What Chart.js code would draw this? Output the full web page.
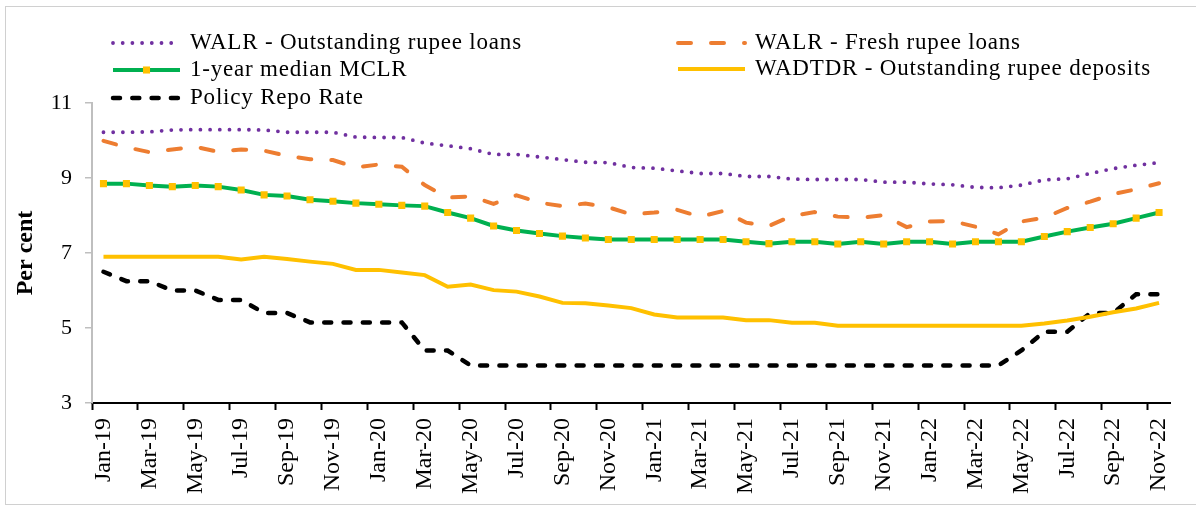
<!DOCTYPE html>
<html>
<head>
<meta charset="utf-8">
<title>WALR, MCLR, WADTDR and policy repo rate</title>
<script src="https://cdn.jsdelivr.net/npm/chart.js@4.4.1/dist/chart.umd.min.js"></script>
<style>
  html, body { margin: 0; padding: 0; background: #fff; }
  #wrap { position: relative; width: 1196px; height: 509px; overflow: hidden; }
  #frame { position: absolute; left: 5px; top: 6px; width: 1220px; height: 499px; border: 1px solid #d0d0d0; box-sizing: border-box; }
  #chart { position: absolute; left: 0; top: 0; }
</style>
</head>
<body>
<div id="wrap">
  <div id="frame"></div>
  <canvas id="chart" width="1196" height="509"></canvas>
</div>
<script>
// Months, Jan-19 .. Nov-22
const months = [
    'Jan-19', 'Feb-19', 'Mar-19', 'Apr-19', 'May-19', 'Jun-19', 'Jul-19', 'Aug-19', 'Sep-19', 'Oct-19', 'Nov-19', 'Dec-19',
    'Jan-20', 'Feb-20', 'Mar-20', 'Apr-20', 'May-20', 'Jun-20', 'Jul-20', 'Aug-20', 'Sep-20', 'Oct-20', 'Nov-20', 'Dec-20',
    'Jan-21', 'Feb-21', 'Mar-21', 'Apr-21', 'May-21', 'Jun-21', 'Jul-21', 'Aug-21', 'Sep-21', 'Oct-21', 'Nov-21', 'Dec-21',
    'Jan-22', 'Feb-22', 'Mar-22', 'Apr-22', 'May-22', 'Jun-22', 'Jul-22', 'Aug-22', 'Sep-22', 'Oct-22', 'Nov-22'
];

// Series (per cent)
const walrOutstanding = [
    10.22, 10.22, 10.23, 10.28, 10.29, 10.29, 10.29, 10.28, 10.22, 10.22, 10.22, 10.09,
    10.08, 10.08, 9.93, 9.86, 9.78, 9.63, 9.63, 9.56, 9.49, 9.42, 9.41, 9.28,
    9.26, 9.19, 9.12, 9.12, 9.04, 9.04, 8.97, 8.96, 8.96, 8.96, 8.89, 8.89,
    8.84, 8.82, 8.75, 8.74, 8.81, 8.95, 8.98, 9.12, 9.25, 9.34, 9.41
];
const walrFresh = [
    9.99, 9.82, 9.69, 9.76, 9.83, 9.70, 9.76, 9.73, 9.59, 9.50, 9.48, 9.28,
    9.36, 9.30, 8.81, 8.48, 8.51, 8.31, 8.54, 8.34, 8.25, 8.32, 8.22, 8.03,
    8.08, 8.15, 7.97, 8.12, 7.81, 7.72, 7.99, 8.09, 7.97, 7.94, 8.01, 7.69,
    7.84, 7.85, 7.70, 7.50, 7.84, 7.94, 8.20, 8.37, 8.57, 8.70, 8.86
];
const mclr = [
    8.85, 8.85, 8.80, 8.77, 8.80, 8.77, 8.68, 8.55, 8.52, 8.42, 8.38, 8.33,
    8.30, 8.27, 8.25, 8.08, 7.93, 7.72, 7.60, 7.52, 7.45, 7.40, 7.36, 7.36,
    7.36, 7.36, 7.36, 7.36, 7.30, 7.25, 7.30, 7.30, 7.24, 7.30, 7.24, 7.30,
    7.30, 7.24, 7.30, 7.30, 7.30, 7.44, 7.57, 7.68, 7.78, 7.93, 8.08
];
const wadtdr = [
    6.90, 6.90, 6.90, 6.90, 6.90, 6.90, 6.83, 6.90, 6.84, 6.77, 6.71, 6.55,
    6.55, 6.48, 6.41, 6.10, 6.16, 6.01, 5.97, 5.84, 5.67, 5.66, 5.60, 5.53,
    5.36, 5.28, 5.28, 5.28, 5.21, 5.21, 5.14, 5.14, 5.06, 5.06, 5.06, 5.06,
    5.06, 5.06, 5.06, 5.06, 5.06, 5.12, 5.20, 5.30, 5.42, 5.52, 5.67
];
const repoRate = [
    6.50, 6.25, 6.25, 6.00, 6.00, 5.75, 5.75, 5.40, 5.40, 5.15, 5.15, 5.15,
    5.15, 5.15, 4.40, 4.40, 4.00, 4.00, 4.00, 4.00, 4.00, 4.00, 4.00, 4.00,
    4.00, 4.00, 4.00, 4.00, 4.00, 4.00, 4.00, 4.00, 4.00, 4.00, 4.00, 4.00,
    4.00, 4.00, 4.00, 4.00, 4.40, 4.90, 4.90, 5.40, 5.40, 5.90, 5.90
];

const yTicks = [3, 5, 7, 9, 11];

const FONT = 'Liberation Serif';
Chart.defaults.font.family = FONT;
Chart.defaults.color = '#000';

// Legend in two columns, drawn on the canvas like the original
const columnLegend = {
    id: 'columnLegend',
    afterDraw(chart, args, opts) {
        const ctx = chart.ctx;
        ctx.save();
        opts.items.forEach(item => {
            const ds = chart.data.datasets[item.dataset];
            const x1 = item.x + opts.lineLength;
            ctx.save();
            ctx.strokeStyle = ds.borderColor;
            ctx.lineWidth = ds.borderWidth;
            ctx.lineCap = ds.borderCapStyle || 'butt';
            ctx.setLineDash(ds.borderDash || []);
            ctx.beginPath();
            ctx.moveTo(item.x, item.y);
            ctx.lineTo(x1, item.y);
            ctx.stroke();
            if (ds.pointRadius > 0) {
                const s = ds.pointRadius * Math.SQRT2;
                ctx.fillStyle = ds.pointBackgroundColor;
                ctx.fillRect((item.x + x1) / 2 - s / 2, item.y - s / 2, s, s);
            }
            ctx.restore();
            ctx.font = opts.font;
            ctx.letterSpacing = opts.letterSpacing;
            ctx.fillStyle = '#000';
            ctx.textBaseline = 'alphabetic';
            ctx.fillText(ds.label, x1 + opts.gap, item.y + 6);
        });
        ctx.restore();
    }
};

const chart = new Chart(document.getElementById('chart').getContext('2d'), {
    type: 'line',
    data: {
        labels: months,
        datasets: [
            {
                label: 'WALR - Outstanding rupee loans',
                data: walrOutstanding,
                borderColor: '#7030A0',
                borderWidth: 3.8,
                borderDash: [0, 9.7],
                borderCapStyle: 'round',
                pointRadius: 0
            },
            {
                label: 'WALR - Fresh rupee loans',
                data: walrFresh,
                borderColor: '#ED7D31',
                borderWidth: 4,
                borderDash: [13, 20],
                borderCapStyle: 'round',
                pointRadius: 0
            },
            {
                label: '1-year median MCLR',
                data: mclr,
                borderColor: '#00B050',
                borderWidth: 4,
                pointStyle: 'rect',
                pointRadius: 5,
                pointBackgroundColor: '#FFC000',
                pointBorderColor: '#FFC000',
                pointBorderWidth: 0
            },
            {
                label: 'WADTDR - Outstanding rupee deposits',
                data: wadtdr,
                borderColor: '#FFC000',
                borderWidth: 4,
                pointRadius: 0
            },
            {
                label: 'Policy Repo Rate',
                data: repoRate,
                borderColor: '#000000',
                borderWidth: 4.5,
                borderDash: [7, 12.3],
                borderCapStyle: 'round',
                pointRadius: 0
            }
        ]
    },
    options: {
        responsive: false,
        devicePixelRatio: 1,
        animation: false,
        layout: {
            padding: { top: 103, right: 13, bottom: 0, left: 0 }
        },
        elements: {
            line: { tension: 0, fill: false }
        },
        scales: {
            x: {
                type: 'category',
                offset: true,
                grid: {
                    offset: true,
                    drawOnChartArea: false,
                    tickLength: 7,
                    tickWidth: 2,
                    tickColor: ctx => ctx.index % 2 === 0 ? '#000' : 'rgba(0,0,0,0)'
                },
                border: { color: '#000', width: 2 },
                ticks: {
                    autoSkip: false,
                    minRotation: 90,
                    maxRotation: 90,
                    padding: 8,
                    font: { size: 24 },
                    color: '#000',
                    callback: function(value, index) {
                        return index % 2 === 0 ? this.getLabelForValue(value) : '';
                    }
                },
                afterFit: scale => { scale.height = 106; }
            },
            y: {
                min: 3,
                max: 11,
                afterBuildTicks: scale => { scale.ticks = yTicks.map(v => ({ value: v })); },
                grid: {
                    drawOnChartArea: false,
                    tickLength: 7,
                    color: '#BFBFBF',
                    lineWidth: 1.5
                },
                border: { color: '#BFBFBF', width: 2 },
                ticks: {
                    padding: 13,
                    font: { size: 22 },
                    color: '#000'
                },
                title: {
                    display: true,
                    text: 'Per cent',
                    color: '#000',
                    font: { size: 24, weight: 'bold' },
                    padding: { top: 11, bottom: 0 }
                },
                afterFit: scale => { scale.width = 92; }
            }
        },
        plugins: {
            legend: { display: false },
            tooltip: { enabled: false },
            columnLegend: {
                font: '23px "Liberation Serif"',
                letterSpacing: '0.8px',
                lineLength: 67,
                gap: 10,
                items: [
                    { dataset: 0, x: 113, y: 43 },
                    { dataset: 2, x: 113, y: 70 },
                    { dataset: 4, x: 113, y: 98 },
                    { dataset: 1, x: 678, y: 43 },
                    { dataset: 3, x: 678, y: 69 }
                ]
            }
        }
    },
    plugins: [columnLegend]
});
</script>
</body>
</html>
